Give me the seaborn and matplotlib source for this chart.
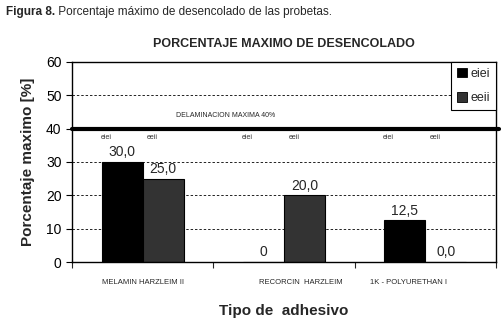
import pandas as pd
import numpy as np
import seaborn as sns
import matplotlib.pyplot as plt

# data
adhesivos = ["MELAMIN HARZLEIM II", "RECORCIN  HARZLEIM", "1K - POLYURETHAN I"]
series = ["eiei", "eeii"]
eiei_vals = [30.0, 0.0, 12.5]
eeii_vals = [25.0, 20.0, 0.0]
eiei_labels = ["30,0", "0", "12,5"]
eeii_labels = ["25,0", "20,0", "0,0"]
limite = 40

df = pd.DataFrame({
    "adhesivo": adhesivos * 2,
    "serie": ["eiei"] * 3 + ["eeii"] * 3,
    "valor": eiei_vals + eeii_vals,
})

sns.set_style("ticks")
plt.rcParams["font.family"] = ["Liberation Sans", "DejaVu Sans"]

fig = plt.figure(figsize=(5.03, 3.29), dpi=100)
ax = fig.add_axes([0.143, 0.2036, 0.843, 0.608])

sns.barplot(data=df, x="adhesivo", y="valor", hue="serie", order=adhesivos,
            hue_order=series, palette=["#000000", "#333333"], width=0.58,
            edgecolor="black", linewidth=0.8, saturation=1, ax=ax, legend=False)

# value labels
for cont, labs in zip(ax.containers, [eiei_labels, eeii_labels]):
    ax.bar_label(cont, labels=labs, padding=2, fontsize=10)

ax.set_ylim(0, 60)
ax.set_xlim(-0.5, 2.5)
ax.set_yticks(np.arange(0, 61, 10))
ax.tick_params(axis="y", labelsize=10, length=4, width=0.8, direction="out", colors="black")
ax.yaxis.grid(True, linestyle=(0, (2.5, 2)), color="#222222", linewidth=0.7)
ax.set_axisbelow(True)

# ticks at group boundaries, names under the groups
ax.set_xticks([-0.5, 0.5, 1.5, 2.5])
ax.set_xticklabels([])
ax.tick_params(axis="x", length=4, width=0.8, direction="out")
name_pos = [0.0, 1.12, 1.88]
for xp, name in zip(name_pos, adhesivos):
    ax.text(xp, -0.1, name, transform=ax.get_xaxis_transform(), ha="center",
            va="center", fontsize=5.5)

for sp in ax.spines.values():
    sp.set_visible(True)
    sp.set_color("black")
    sp.set_linewidth(1)

# delamination limit
ax.axhline(limite, xmin=0, xmax=1.006, color="black", linewidth=3, clip_on=False, zorder=3)
ax.text(0.59, 44.0, "DELAMINACION MAXIMA 40%", ha="center", va="center", fontsize=5)
for i in range(3):
    ax.text(i - 0.26, 37.2, "eiei", ha="center", va="center", fontsize=5, color="#333333")
    ax.text(i + 0.07, 37.2, "eeii", ha="center", va="center", fontsize=5, color="#333333")

ax.set_xlabel("Tipo de  adhesivo", fontsize=11, fontweight="bold", labelpad=23)
ax.set_ylabel("Porcentaje maximo [%]", fontsize=11, fontweight="bold", labelpad=8)
ax.set_title("PORCENTAJE MAXIMO DE DESENCOLADO", fontsize=9, fontweight="bold", pad=11)

handles = [plt.Rectangle((0, 0), 1, 1, facecolor=c, edgecolor="black", linewidth=0.6)
           for c in ["#000000", "#333333"]]
leg = ax.legend(handles, series, loc="upper right", bbox_to_anchor=(1.0, 1.0),
                fontsize=9, frameon=True, fancybox=False, framealpha=1,
                edgecolor="black", borderpad=0.45, handlelength=0.8,
                handleheight=0.8, handletextpad=0.3, labelspacing=1.0,
                borderaxespad=0)
leg.get_frame().set_linewidth(0.8)

# figure caption: bold part then the rest right after it
cap = fig.text(0.012, 0.963, "Figura 8.", fontsize=8.5, fontweight="bold", va="center")
ax.annotate(" Porcentaje máximo de desencolado de las probetas.", xy=(1, 0.5),
            xycoords=cap, va="center", ha="left", fontsize=8.5, annotation_clip=False)

fig.savefig("out.png", dpi=100)
